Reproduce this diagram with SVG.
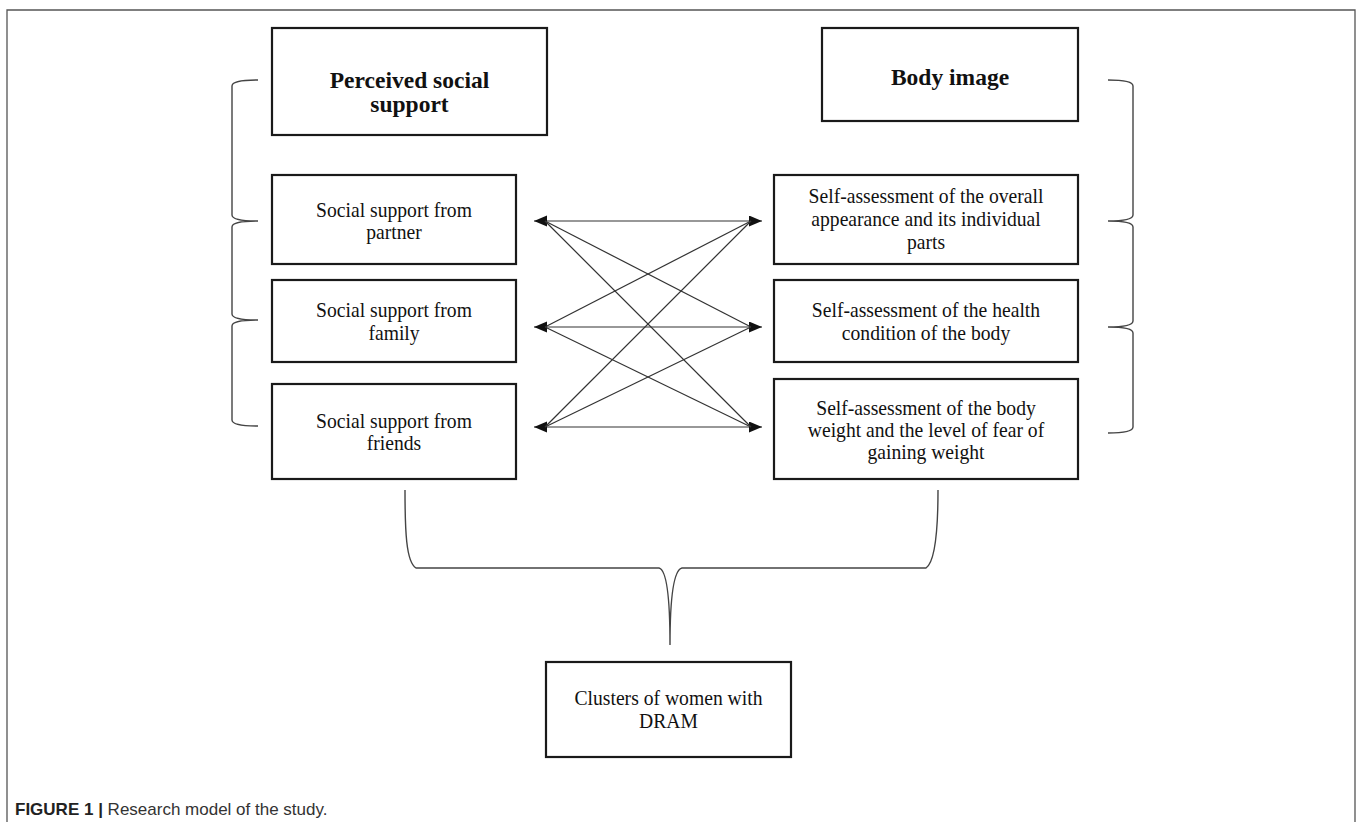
<svg xmlns="http://www.w3.org/2000/svg" width="1358" height="822" viewBox="0 0 1358 822">
<style>
.box{fill:#fff;stroke:#1a1a1a;stroke-width:2.2}
.t{font-family:"Liberation Serif","Times New Roman",serif;font-size:21px;fill:#111;text-anchor:middle;transform-box:fill-box;transform-origin:center;transform:scaleX(0.935)}
.h{font-family:"Liberation Serif","Times New Roman",serif;font-size:23.5px;font-weight:bold;fill:#111;text-anchor:middle}
.br{fill:none;stroke:#444;stroke-width:1.4}
.ln{fill:none;stroke:#333;stroke-width:1.2}
.cap{font-family:"Liberation Sans",Arial,sans-serif;font-size:17px;fill:#333}
</style>
<defs>
<marker id="ah" markerUnits="userSpaceOnUse" markerWidth="14" markerHeight="12" refX="13" refY="5.5" orient="auto-start-reverse" viewBox="0 0 14 12">
<path d="M0,0 L13,5.5 L0,11 z" fill="#111"/>
</marker>
</defs>
<rect width="1358" height="822" fill="#fff"/>
<path d="M7,822 V10 H1355 V822" fill="none" stroke="#555" stroke-width="1.3"/>

<g id="n-perceived">
<rect class="box" x="272" y="28" width="275" height="107"/>
<text class="h" x="409.5" y="88">Perceived social</text>
<text class="h" x="409.5" y="112">support</text>
</g>
<g id="n-bodyimage">
<rect class="box" x="822" y="28" width="256" height="93"/>
<text class="h" x="950" y="85">Body image</text>
</g>
<g id="n-partner">
<rect class="box" x="272" y="175" width="244" height="89"/>
<text class="t" x="394" y="217">Social support from</text>
<text class="t" x="394" y="239">partner</text>
</g>
<g id="n-family">
<rect class="box" x="272" y="280" width="244" height="82"/>
<text class="t" x="394" y="317">Social support from</text>
<text class="t" x="394" y="340">family</text>
</g>
<g id="n-friends">
<rect class="box" x="272" y="384" width="244" height="95"/>
<text class="t" x="394" y="428">Social support from</text>
<text class="t" x="394" y="450">friends</text>
</g>
<g id="n-appearance">
<rect class="box" x="774" y="175" width="304" height="89"/>
<text class="t" x="926" y="203">Self-assessment of the overall</text>
<text class="t" x="926" y="226">appearance and its individual</text>
<text class="t" x="926" y="249">parts</text>
</g>
<g id="n-health">
<rect class="box" x="774" y="280" width="304" height="82"/>
<text class="t" x="926" y="317">Self-assessment of the health</text>
<text class="t" x="926" y="340">condition of the body</text>
</g>
<g id="n-weight">
<rect class="box" x="774" y="379" width="304" height="100"/>
<text class="t" x="926" y="415">Self-assessment of the body</text>
<text class="t" x="926" y="437">weight and the level of fear of</text>
<text class="t" x="926" y="459">gaining weight</text>
</g>
<g id="n-clusters">
<rect class="box" x="546" y="662" width="245" height="95"/>
<text class="t" x="668.5" y="705">Clusters of women with</text>
<text class="t" x="668.5" y="728">DRAM</text>
</g>

<g id="connectors">
<path class="br" d="M258,80 Q232,80 232,86 V215 Q232,221 258,221 Q232,221 232,227 V314 Q232,320 258,320 Q232,320 232,326 V420 Q232,426 258,426"/>
<path class="br" d="M1108,80 Q1133,80 1133,86 V215 Q1133,221 1108,221 Q1133,221 1133,227 V321 Q1133,327 1108,327 Q1133,327 1133,333 V427 Q1133,433 1108,433"/>
<path class="br" d="M405,490 C405,530 406,562 416,568 H659 C667,570 670,600 670,645 C670,600 673,570 682,568 H926 C935,562 938,530 938,490"/>
<line class="ln" x1="534" y1="221" x2="762" y2="221" marker-start="url(#ah)" marker-end="url(#ah)"/>
<line class="ln" x1="534" y1="327" x2="762" y2="327" marker-start="url(#ah)" marker-end="url(#ah)"/>
<line class="ln" x1="534" y1="427" x2="762" y2="427" marker-start="url(#ah)" marker-end="url(#ah)"/>
<line class="ln" x1="545" y1="221" x2="751" y2="327"/>
<line class="ln" x1="545" y1="221" x2="751" y2="427"/>
<line class="ln" x1="545" y1="327" x2="751" y2="221"/>
<line class="ln" x1="545" y1="327" x2="751" y2="427"/>
<line class="ln" x1="545" y1="427" x2="751" y2="221"/>
<line class="ln" x1="545" y1="427" x2="751" y2="327"/>
</g>

<text class="cap" x="15" y="815"><tspan font-weight="bold" fill="#222">FIGURE 1</tspan><tspan fill="#222" font-weight="bold"> | </tspan>Research model of the study.</text>
</svg>
